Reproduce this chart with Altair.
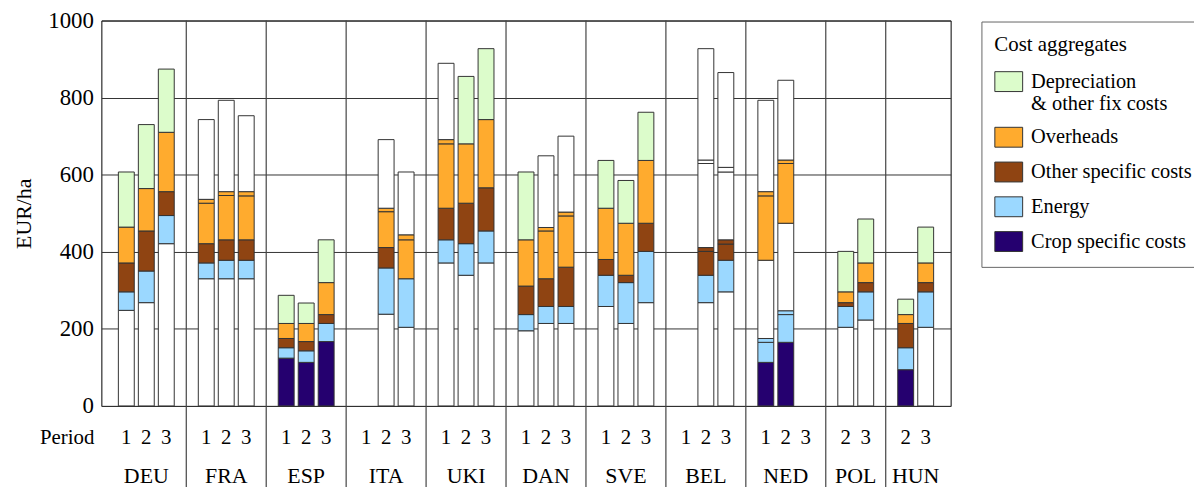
import altair as alt
import pandas as pd

FONT = "Liberation Serif"

# cost aggregates, legend order (top to bottom) and their colours
aggregates = ["Depreciation & other fix costs", "Overheads", "Other specific costs",
              "Energy", "Crop specific costs"]
agg_colors = ["#dcfccb", "#ffab2e", "#8f4412", "#9bd8ff", "#25006f"]
unallocated = "not allocated"
codes = {"D": aggregates[0], "H": aggregates[1], "O": aggregates[2],
         "E": aggregates[3], "C": aggregates[4], "W": unallocated}

countries = ["DEU", "FRA", "ESP", "ITA", "UKI", "DAN", "SVE", "BEL", "NED", "POL", "HUN"]
periods = {"DEU": [1, 2, 3], "FRA": [1, 2, 3], "ESP": [1, 2, 3], "ITA": [1, 2, 3],
           "UKI": [1, 2, 3], "DAN": [1, 2, 3], "SVE": [1, 2, 3], "BEL": [1, 2, 3],
           "NED": [1, 2, 3], "POL": [2, 3], "HUN": [2, 3]}

# segments of each bar, bottom to top: (aggregate code, top of segment in EUR/ha)
DEU = {1: [("W", 248), ("E", 296), ("O", 371), ("H", 464), ("D", 607)],
       2: [("W", 268), ("E", 350), ("O", 454), ("H", 564), ("D", 730)],
       3: [("W", 421), ("E", 494), ("O", 556), ("H", 710), ("D", 874)]}
FRA = {1: [("W", 330), ("E", 371), ("O", 421), ("H", 526), ("H", 536), ("W", 743)],
       2: [("W", 330), ("E", 378), ("O", 431), ("H", 546), ("H", 556), ("W", 793)],
       3: [("W", 330), ("E", 378), ("O", 431), ("H", 545), ("H", 556), ("W", 753)]}
ESP = {1: [("C", 124), ("E", 151), ("O", 175), ("H", 214), ("D", 287)],
       2: [("C", 113), ("E", 143), ("O", 167), ("H", 214), ("D", 267)],
       3: [("C", 167), ("E", 214), ("O", 237), ("H", 320), ("D", 431)]}
ITA = {2: [("W", 238), ("E", 358), ("O", 411), ("H", 504), ("H", 513), ("W", 691)],
       3: [("W", 204), ("E", 330), ("H", 431), ("H", 444), ("W", 607)]}
UKI = {1: [("W", 371), ("E", 431), ("O", 513), ("H", 680), ("H", 691), ("W", 889)],
       2: [("W", 339), ("E", 421), ("O", 526), ("H", 680), ("D", 855)],
       3: [("W", 371), ("E", 454), ("O", 566), ("H", 743), ("D", 927)]}
DAN = {1: [("W", 195), ("E", 237), ("O", 311), ("H", 431), ("D", 607)],
       2: [("W", 214), ("E", 258), ("O", 330), ("H", 454), ("H", 463), ("W", 649)],
       3: [("W", 214), ("E", 258), ("O", 360), ("H", 493), ("H", 503), ("W", 700)]}
SVE = {1: [("W", 258), ("E", 339), ("O", 380), ("H", 513), ("D", 637)],
       2: [("W", 214), ("E", 320), ("O", 339), ("H", 474), ("D", 585)],
       3: [("W", 268), ("E", 401), ("O", 474), ("H", 637), ("D", 762)]}
BEL = {2: [("W", 268), ("E", 339), ("O", 401), ("O", 411), ("W", 629), ("W", 638), ("W", 927)],
       3: [("W", 296), ("E", 378), ("O", 420), ("O", 431), ("W", 607), ("W", 619), ("W", 865)]}
NED = {1: [("C", 113), ("E", 165), ("E", 175), ("W", 378), ("H", 545), ("H", 556), ("W", 793)],
       2: [("C", 165), ("E", 237), ("E", 247), ("W", 474), ("H", 629), ("H", 638), ("W", 845)]}
POL = {2: [("W", 204), ("E", 258), ("O", 268), ("H", 296), ("D", 401)],
       3: [("W", 223), ("E", 296), ("O", 320), ("H", 371), ("D", 485)]}
HUN = {2: [("C", 94), ("E", 151), ("O", 214), ("H", 237), ("D", 277)],
       3: [("W", 204), ("E", 296), ("O", 320), ("H", 371), ("D", 464)]}

bars_by_country = {"DEU": DEU, "FRA": FRA, "ESP": ESP, "ITA": ITA, "UKI": UKI, "DAN": DAN,
                   "SVE": SVE, "BEL": BEL, "NED": NED, "POL": POL, "HUN": HUN}

# x layout: each country group is (number of periods + 1) units wide
seg_rows, slot_rows, label_rows, bounds = [], [], [], []
offset = 0
for c in countries:
    n = len(periods[c])
    if offset > 0:
        bounds.append(offset)
    for k, p in enumerate(periods[c]):
        pos = offset + k + 1
        slot_rows.append({"pos": pos, "period": str(p)})
        lo = 0
        for code, top in bars_by_country[c].get(p, []):
            seg_rows.append({"country": c, "period": p, "pos": pos,
                             "cat": codes[code], "lo": lo, "hi": top})
            lo = top
    label_rows.append({"pos": offset + (n + 1) / 2, "country": c})
    offset += n + 1
total = offset

segs = pd.DataFrame(seg_rows)
slots = pd.DataFrame(slot_rows)
labels = pd.DataFrame(label_rows)
dividers = pd.DataFrame({"b": bounds})

W, H = 855, 388
x_scale = alt.Scale(domain=[0, total], nice=False, zero=False)
y_scale = alt.Scale(domain=[0, 1000], nice=False)

bars = alt.Chart(segs).mark_bar(size=16, stroke="#333333", strokeWidth=1).encode(
    x=alt.X("pos:Q", scale=x_scale,
            axis=alt.Axis(values=list(slots["pos"]), labels=False, tickSize=9,
                          tickColor="#666666", domain=False, grid=False, title=None)),
    y=alt.Y("lo:Q", scale=y_scale,
            axis=alt.Axis(values=[0, 200, 400, 600, 800, 1000], format="d", ticks=False,
                          grid=True, gridColor="#333333", gridWidth=1, domain=False,
                          labelFont=FONT, labelFontSize=23, labelColor="black", labelPadding=8,
                          title="EUR/ha", titleFont=FONT, titleFontSize=22,
                          titleFontWeight="normal", titleColor="black", titlePadding=12)),
    y2="hi:Q",
    color=alt.Color("cat:N",
                    scale=alt.Scale(domain=aggregates + [unallocated],
                                    range=agg_colors + ["#ffffff"]),
                    legend=alt.Legend(
                        title="Cost aggregates", values=aggregates, orient="none",
                        legendX=886, legendY=1, padding=13,
                        strokeColor="#666666", fillColor="white",
                        symbolType="M-1.4,-1H1.4V1H-1.4Z", symbolSize=400,
                        symbolOffset=4, symbolStrokeColor="#333333", symbolStrokeWidth=1,
                        symbolOpacity=1, rowPadding=10, labelOffset=12,
                        labelFont=FONT, labelFontSize=20.5, labelColor="black", labelLimit=400,
                        labelExpr="datum.label == 'Depreciation & other fix costs' ? "
                                  "['Depreciation', '& other fix costs'] : datum.label",
                        titleFont=FONT, titleFontSize=21, titleFontWeight="normal",
                        titleColor="black", titlePadding=16)),
)

rules = alt.Chart(dividers).mark_rule(color="#444444", strokeWidth=1.2).encode(
    x=alt.X("b:Q", scale=x_scale, axis=None),
    y=alt.value(0), y2=alt.value(H + 90),
)

period_text = alt.Chart(slots).mark_text(font=FONT, fontSize=21, baseline="middle").encode(
    x=alt.X("pos:Q", scale=x_scale, axis=None),
    y=alt.value(420), text="period:N",
)

period_title = alt.Chart(pd.DataFrame({"t": ["Period"]})).mark_text(
    font=FONT, fontSize=21, baseline="middle", align="right").encode(
    x=alt.value(-7), y=alt.value(420), text="t:N",
)

country_text = alt.Chart(labels).mark_text(font=FONT, fontSize=22, baseline="middle").encode(
    x=alt.X("pos:Q", scale=x_scale, axis=None),
    y=alt.value(459), text="country:N",
)

chart = alt.layer(bars, rules, period_text, period_title, country_text).properties(
    width=W, height=H,
    autosize=alt.AutoSizeParams(type="none"),
    padding={"left": 94, "top": 11, "right": 245, "bottom": 80},
).configure_view(stroke="black", strokeWidth=1)

chart.save("out.html", embed_options={"renderer": "svg", "actions": False})
